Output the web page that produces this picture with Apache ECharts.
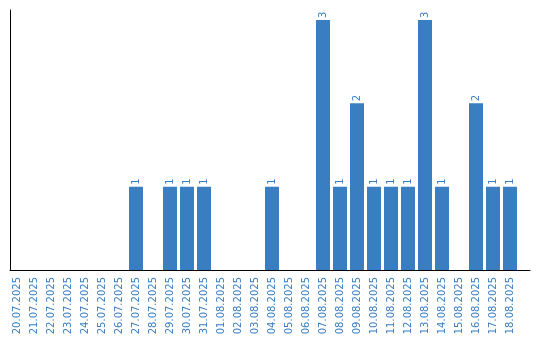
<!DOCTYPE html>
<html><head><meta charset="utf-8">
<script src="https://cdn.jsdelivr.net/npm/echarts@6/dist/echarts.min.js"></script>
<style>html,body{margin:0;padding:0;background:#fff}#c{width:540px;height:340px}</style>
</head><body><div id="c"></div>
<script>
const categories = ["20.07.2025","21.07.2025","22.07.2025","23.07.2025","24.07.2025","25.07.2025","26.07.2025","27.07.2025","28.07.2025","29.07.2025","30.07.2025","31.07.2025","01.08.2025","02.08.2025","03.08.2025","04.08.2025","05.08.2025","06.08.2025","07.08.2025","08.08.2025","09.08.2025","10.08.2025","11.08.2025","12.08.2025","13.08.2025","14.08.2025","15.08.2025","16.08.2025","17.08.2025","18.08.2025"];
const values = [0,0,0,0,0,0,0,1,0,1,1,1,0,0,0,1,0,0,3,1,2,1,1,1,3,1,0,2,1,1];
const blue = '#3a7ec2';
const chart = echarts.init(document.getElementById('c'), null, {renderer:'canvas'});
chart.setOption({
  animation:false,
  grid:[
    {left:8.5, right:21.5, top:10, bottom:70},
    {left:10, right:10, top:10, bottom:70}
  ],
  xAxis:[
    {type:'category', gridIndex:0, data:categories,
     axisLine:{show:false}, axisTick:{show:false},
     axisLabel:{rotate:90, color:blue, fontFamily:'DejaVu Sans', fontSize:10, margin:7, interval:0}},
    {type:'value', gridIndex:1, min:0, max:1,
     axisLine:{show:true, lineStyle:{color:'#000', width:1}}, axisTick:{show:false},
     axisLabel:{show:false}, splitLine:{show:false}}
  ],
  yAxis:[
    {type:'value', gridIndex:0, min:0, max:3.12,
     axisLine:{show:false}, axisTick:{show:false}, axisLabel:{show:false}, splitLine:{show:false}},
    {type:'value', gridIndex:1, min:0, max:1,
     axisLine:{show:true, lineStyle:{color:'#000', width:1}}, axisTick:{show:false},
     axisLabel:{show:false}, splitLine:{show:false}}
  ],
  series:[{
    type:'bar', xAxisIndex:0, yAxisIndex:0,
    data: values.map(v => v === 0 ? null : v),
    barWidth:14,
    itemStyle:{color:blue},
    label:{show:true, position:'top', rotate:90, align:'left', verticalAlign:'middle',
      distance:2, color:blue, fontFamily:'DejaVu Sans', fontSize:10}
  }]
});
</script></body></html>
